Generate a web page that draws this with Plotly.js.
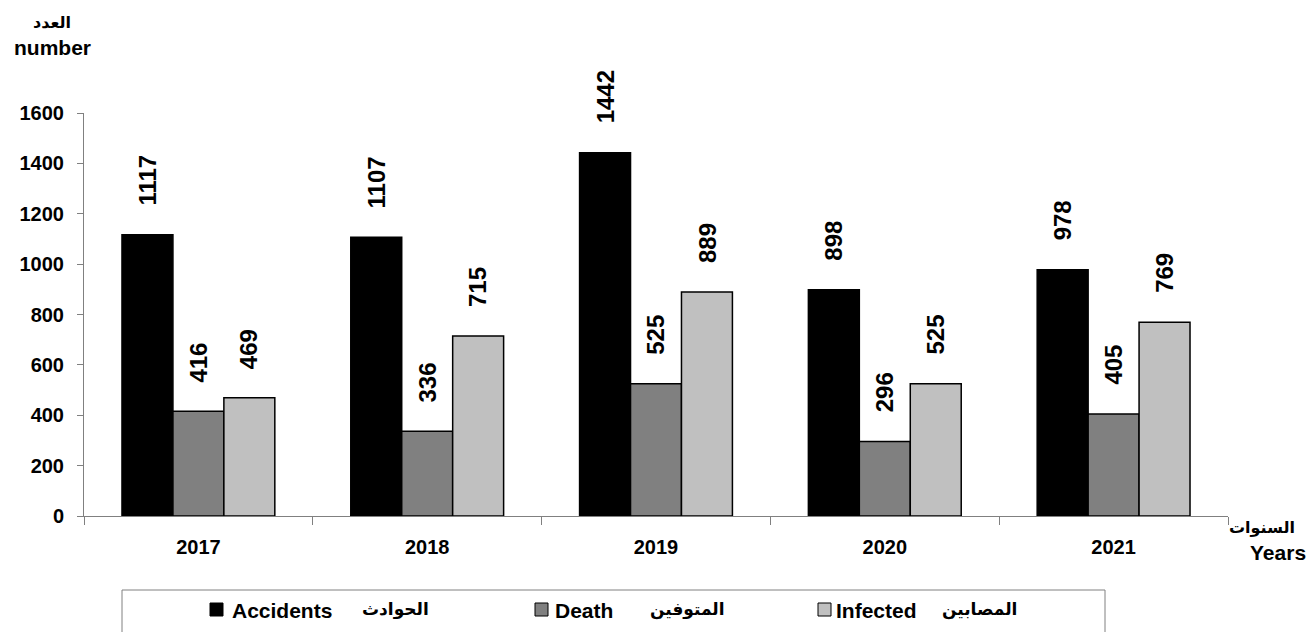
<!DOCTYPE html>
<html>
<head>
<meta charset="utf-8">
<script src="https://cdn.plot.ly/plotly-3.0.1.min.js"></script>
<style>html,body{margin:0;padding:0;background:#fff;}#chart{width:1311px;height:632px;}</style>
</head>
<body>
<div id="chart"></div>
<script>
var years = ['2017', '2018', '2019', '2020', '2021'];
var accidents = [1117, 1107, 1442, 898, 978];
var deaths = [416, 336, 525, 296, 405];
var infected = [469, 715, 889, 525, 769];
var seriesNamesEn = ['Accidents', 'Death', 'Infected'];
var seriesNamesAr = ['الحوادث', 'المتوفين', 'المصابين'];
var yTicks = [0, 200, 400, 600, 800, 1000, 1200, 1400, 1600];

var colors = ['#000000', '#808080', '#c0c0c0'];
var FONT = 'Liberation Sans, Arial, DejaVu Sans, sans-serif';
var W = 1311, H = 632, ML = 84, MR = 83, MT = 113, MB = 116;
var PW = W - ML - MR, PH = H - MT - MB;
function px(x) { return (x - ML) / PW; }
function py(y) { return (H - MB - y) / PH; }

var allSeries = [accidents, deaths, infected];
var traces = allSeries.map(function (vals, i) {
  return {
    type: 'bar', x: years, y: vals, name: seriesNamesEn[i],
    marker: {color: colors[i], line: {color: '#000', width: 1.5}},
    hoverinfo: 'x+y', showlegend: false
  };
});

var bargap = 0.332;
var barPx = PW / years.length * (1 - bargap) / 3;
var annotations = [];
allSeries.forEach(function (vals, i) {
  vals.forEach(function (v, j) {
    annotations.push({
      x: j, y: v, xref: 'x', yref: 'y', text: '<b>' + v + '</b>',
      showarrow: false, textangle: -90, xanchor: 'center', yanchor: 'bottom',
      xshift: (i - 1) * barPx, yshift: 27,
      font: {family: FONT, size: 24, color: '#000'}
    });
  });
});

// axis titles
annotations.push({xref: 'paper', yref: 'paper', x: px(52), y: py(23), text: '<b>العدد</b>', showarrow: false, xanchor: 'center', yanchor: 'middle', font: {family: FONT, size: 16, color: '#000'}});
annotations.push({xref: 'paper', yref: 'paper', x: px(52), y: py(48), text: '<b>number</b>', showarrow: false, xanchor: 'center', yanchor: 'middle', font: {family: FONT, size: 21, color: '#000'}});
annotations.push({xref: 'paper', yref: 'paper', x: px(1262), y: py(528), text: '<b>السنوات</b>', showarrow: false, xanchor: 'center', yanchor: 'middle', font: {family: FONT, size: 16, color: '#000'}});
annotations.push({xref: 'paper', yref: 'paper', x: px(1278), y: py(552), text: '<b>Years</b>', showarrow: false, xanchor: 'center', yanchor: 'middle', font: {family: FONT, size: 21, color: '#000'}});

// legend (drawn manually)
var legSq = [210, 535, 818];
var legTextEn = [230, 553, 834];
var legTextAr = [360, 648, 940];
var shapes = [{type: 'rect', xref: 'paper', yref: 'paper', x0: px(122), x1: px(1105), y0: py(590), y1: py(660),
  line: {color: '#808080', width: 1}, fillcolor: 'rgba(0,0,0,0)'}];
for (var k = 0; k < 3; k++) {
  shapes.push({type: 'rect', xref: 'paper', yref: 'paper', x0: px(legSq[k]), x1: px(legSq[k] + 13), y0: py(603), y1: py(616),
    line: {color: '#000', width: 1}, fillcolor: colors[k]});
  annotations.push({xref: 'paper', yref: 'paper', x: px(legTextEn[k]), y: py(610), text: '<b>' + seriesNamesEn[k] + '</b>', showarrow: false, xanchor: 'left', yanchor: 'middle', font: {family: FONT, size: 21, color: '#000'}});
  annotations.push({xref: 'paper', yref: 'paper', x: px(legTextAr[k]), y: py(610), text: '<b>' + seriesNamesAr[k] + '</b>', showarrow: false, xanchor: 'left', yanchor: 'middle', font: {family: FONT, size: 17, color: '#000'}});
}

var layout = {
  width: W, height: H,
  margin: {l: ML, r: MR, t: MT, b: MB, pad: 0},
  paper_bgcolor: '#fff', plot_bgcolor: '#fff',
  barmode: 'group', bargap: bargap, bargroupgap: 0,
  font: {family: FONT, color: '#000'},
  xaxis: {
    type: 'category', showgrid: false, zeroline: false,
    showline: true, linecolor: '#808080', linewidth: 1,
    ticks: 'outside', tickson: 'boundaries', ticklen: 8, tickcolor: '#808080',
    tickfont: {family: FONT, size: 20, color: '#000', weight: 'bold'},
    ticklabelstandoff: 13,
    range: [-0.5, years.length - 0.5], fixedrange: true
  },
  yaxis: {
    range: [0, 1600], tickvals: yTicks, ticktext: yTicks.map(String),
    showgrid: false, zeroline: false,
    showline: true, linecolor: '#808080', linewidth: 1,
    ticks: 'outside', ticklen: 6, tickcolor: '#808080',
    tickfont: {family: FONT, size: 20, color: '#000', weight: 'bold'},
    ticklabelstandoff: 9, fixedrange: true
  },
  annotations: annotations, shapes: shapes, showlegend: false
};

Plotly.newPlot('chart', traces, layout, {displayModeBar: false, staticPlot: true});
</script>
</body>
</html>
